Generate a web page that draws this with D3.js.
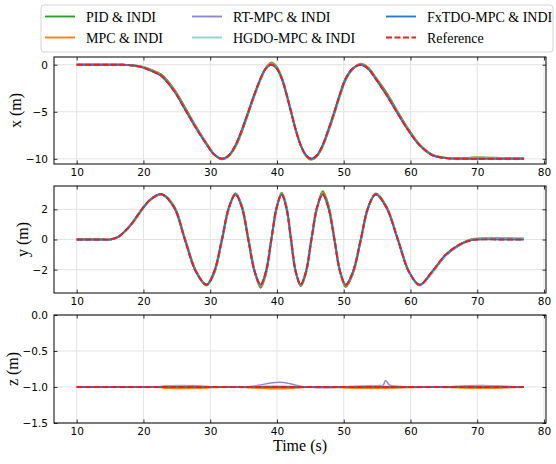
<!DOCTYPE html>
<html><head><meta charset="utf-8">
<script src="https://cdn.jsdelivr.net/npm/d3@7"></script>
<style>body{margin:0;background:#fff}</style>
</head><body>
<svg id="c" width="556" height="464"></svg>
<script>
// ---------- data ----------
const seriesNames = ["PID & INDI","MPC & INDI","RT-MPC & INDI","HGDO-MPC & INDI","FxTDO-MPC & INDI","Reference"];
const seriesColors = ["#2ca02c","#ff7f0e","#9088cc","#8fd6c3","#2b79cc","#ee1c1c"];
const xTicks = [10,20,30,40,50,60,70,80];
const yTicks1 = [0,-5,-10];
const yTicks2 = [-2,0,2];
const yTicks3 = [0,-0.5,-1,-1.5];

const time = [10,12,14,15,16.2,16.95,17.7,18.45,19.2,19.95,21.2,22.7,24.6,26.2,27.85,29.45,30.6,31.75,32.8,33.8,34.75,35.7,36.65,37.55,38.35,39.15,39.95,40.7,41.4,42.1,42.8,43.55,44.35,45.15,46.0,46.85,47.7,48.6,49.45,50.3,51.4,52.55,53.65,54.8,56.4,58.1,59.75,61.35,63.25,65.2,67.2,69.0,70.0,73.5,77];

const xRef  = [0,0,0,0,0,-0.01,-0.04,-0.09,-0.17,-0.3,-0.65,-1.2,-2.8,-4.7,-6.7,-8.45,-9.55,-10,-9.62,-8.54,-6.91,-5,-3.09,-1.46,-0.38,0,-0.38,-1.46,-3.09,-5,-6.91,-8.54,-9.62,-10,-9.62,-8.54,-6.91,-5,-3.09,-1.46,-0.38,0,-0.42,-1.5,-3.2,-5.2,-7.05,-8.55,-9.6,-9.92,-9.99,-10,-10,-10,-10];
const xPID  = [0,0,0,0,0,0,-0.02,-0.06,-0.13,-0.24,-0.55,-1.05,-2.6,-4.5,-6.55,-8.35,-9.5,-10.05,-9.7,-8.7,-7.1,-5.2,-3.25,-1.55,-0.35,0.25,-0.2,-1.3,-2.95,-4.9,-6.85,-8.55,-9.7,-10.08,-9.7,-8.7,-7.1,-5.2,-3.3,-1.6,-0.45,0.12,-0.3,-1.35,-2.95,-5.0,-6.9,-8.45,-9.55,-9.88,-9.93,-9.88,-9.85,-9.9,-9.98];
const xMPC  = [0,0,0,0,0,-0.01,-0.03,-0.08,-0.15,-0.27,-0.6,-1.12,-2.7,-4.6,-6.6,-8.4,-9.52,-10.02,-9.66,-8.6,-7.0,-5.1,-3.15,-1.5,-0.3,0.15,-0.3,-1.4,-3.02,-4.95,-6.88,-8.55,-9.66,-10.04,-9.66,-8.6,-7.0,-5.1,-3.15,-1.52,-0.4,0.08,-0.35,-1.42,-3.08,-5.1,-6.98,-8.5,-9.58,-9.9,-9.95,-9.9,-9.87,-9.9,-9.97];
const xRT   = [0,0,0,0,0,-0.01,-0.04,-0.09,-0.17,-0.3,-0.65,-1.2,-2.8,-4.7,-6.7,-8.45,-9.55,-10,-9.62,-8.54,-6.91,-5,-3.09,-1.46,-0.36,0.05,-0.36,-1.46,-3.09,-5,-6.91,-8.54,-9.62,-10.02,-9.62,-8.54,-6.91,-5,-3.09,-1.46,-0.37,0.03,-0.4,-1.5,-3.2,-5.2,-7.05,-8.55,-9.6,-9.92,-9.98,-9.97,-9.96,-9.96,-9.99];
const xHGDO = [0,0,0,0,0,-0.01,-0.04,-0.09,-0.17,-0.3,-0.65,-1.2,-2.8,-4.7,-6.7,-8.45,-9.55,-10,-9.62,-8.54,-6.91,-5,-3.09,-1.46,-0.38,0,-0.38,-1.46,-3.09,-5,-6.91,-8.54,-9.62,-10,-9.62,-8.54,-6.91,-5,-3.09,-1.46,-0.38,0,-0.42,-1.5,-3.2,-5.2,-7.05,-8.55,-9.6,-9.92,-9.98,-9.98,-9.97,-9.97,-9.98];
const xFx   = [0,0,0,0,0,-0.01,-0.04,-0.09,-0.17,-0.3,-0.65,-1.2,-2.8,-4.7,-6.7,-8.45,-9.55,-10,-9.62,-8.54,-6.91,-5,-3.09,-1.46,-0.38,0,-0.38,-1.46,-3.09,-5,-6.91,-8.54,-9.62,-10,-9.62,-8.54,-6.91,-5,-3.09,-1.46,-0.38,0,-0.42,-1.5,-3.2,-5.2,-7.05,-8.55,-9.6,-9.92,-9.99,-10,-10,-10,-10];

const yRef  = [0,0,0,0,0.17,0.44,0.77,1.17,1.65,2.12,2.71,3.0,2.12,0,-2.12,-3.0,-2.12,0,2.12,3.0,2.12,0,-2.12,-3.0,-2.12,0,2.12,3.0,2.12,0,-2.12,-3.0,-2.12,0,2.12,3.0,2.12,0,-2.12,-3.0,-2.12,0,2.12,3.0,2.12,0,-2.12,-3.0,-2.12,-1.04,-0.37,-0.06,0,0,0];
const yPID  = [0,0,0,0,0.15,0.41,0.74,1.13,1.6,2.07,2.68,3.02,2.2,0.1,-2.05,-3.05,-2.25,-0.1,2.05,3.08,2.25,0.15,-2.05,-3.2,-2.3,-0.1,2.05,3.1,2.25,0.1,-2.1,-3.1,-2.25,-0.1,2.05,3.2,2.3,0.1,-2.1,-3.15,-2.25,-0.1,2.05,3.05,2.2,0.05,-2.1,-3.02,-2.2,-1.1,-0.4,0.0,0.06,0.08,0.05];
const yMPC  = [0,0,0,0,0.16,0.43,0.76,1.15,1.63,2.1,2.7,3.01,2.15,0.05,-2.1,-3.02,-2.18,-0.05,2.1,3.04,2.18,0.07,-2.1,-3.1,-2.2,-0.05,2.1,3.05,2.18,0.05,-2.12,-3.05,-2.18,-0.05,2.1,3.1,2.2,0.05,-2.12,-3.08,-2.18,-0.05,2.1,3.02,2.15,0.02,-2.12,-3.02,-2.15,-1.06,-0.38,-0.02,0.03,0.05,0.03];
const yRT   = [0,0,0,0,0.17,0.44,0.77,1.17,1.65,2.12,2.71,3.0,2.12,0,-2.12,-3.0,-2.12,0,2.12,3.0,2.12,0,-2.12,-3.02,-2.12,0,2.12,3.0,2.12,0,-2.12,-3.0,-2.12,0,2.12,3.02,2.12,0,-2.12,-3.0,-2.12,0,2.12,3.0,2.12,0,-2.12,-3.05,-2.18,-1.1,-0.42,-0.05,0.03,0.08,0.06];
const yHGDO = [0,0,0,0,0.17,0.44,0.77,1.17,1.65,2.12,2.71,3.0,2.12,0,-2.12,-3.0,-2.12,0,2.12,3.0,2.12,0,-2.12,-3.0,-2.12,0,2.12,3.0,2.12,0,-2.12,-3.0,-2.12,0,2.12,3.0,2.12,0,-2.12,-3.0,-2.12,0,2.12,3.0,2.12,0,-2.12,-3.03,-2.15,-1.07,-0.4,-0.04,0.02,0.06,0.05];
const yFx   = [0,0,0,0,0.17,0.44,0.77,1.17,1.65,2.12,2.71,3.0,2.12,0,-2.12,-3.0,-2.12,0,2.12,3.0,2.12,0,-2.12,-3.0,-2.12,0,2.12,3.0,2.12,0,-2.12,-3.0,-2.12,0,2.12,3.0,2.12,0,-2.12,-3.0,-2.12,0,2.12,3.0,2.12,0,-2.12,-3.0,-2.12,-1.04,-0.37,-0.06,0,0,0];

const timeZ = [10,15,20,22,23,24,26,28,30,32,34,36,37.5,39,40.4,42,43.5,45,47,49,51,53,55,55.9,56.25,56.9,58,60,62,64,66,68,70,72,74,76,77];
const zRef  = [-1,-1,-1,-1,-1,-1,-1,-1,-1,-1,-1,-1,-1,-1,-1,-1,-1,-1,-1,-1,-1,-1,-1,-1,-1,-1,-1,-1,-1,-1,-1,-1,-1,-1,-1,-1,-1];
const zFx   = [-1,-1,-1,-1,-1,-1,-1,-1,-1,-1,-1,-1,-1,-1,-1,-1,-1,-1,-1,-1,-1,-1,-1,-1,-1,-1,-1,-1,-1,-1,-1,-1,-1,-1,-1,-1,-1];
const zPID  = [-1,-1,-1,-1,-1.002,-1.004,-1.005,-1.004,-1.002,-1,-1,-1.002,-1.005,-1.008,-1.008,-1.005,-1.002,-1,-1,-1,-1.003,-1.005,-1.005,-1.005,-1.005,-1.004,-1.003,-1.001,-1,-1,-1.001,-1.003,-1.004,-1.004,-1.003,-1.001,-1];
const zMPC  = [-1,-1,-1,-1,-1.01,-1.015,-1.018,-1.016,-1.006,-1,-1,-1.006,-1.016,-1.021,-1.022,-1.016,-1.006,-1,-1,-1.004,-1.012,-1.016,-1.016,-1.016,-1.016,-1.015,-1.012,-1.005,-1,-1,-1.004,-1.01,-1.013,-1.013,-1.009,-1.003,-1];
const zRT   = [-1,-1,-1,-1,-0.986,-0.982,-0.979,-0.984,-0.995,-1,-1,-0.993,-0.972,-0.945,-0.935,-0.955,-0.99,-1.002,-1.01,-1.004,-0.994,-0.986,-0.981,-0.978,-0.91,-0.976,-0.99,-0.999,-1,-1,-0.995,-0.986,-0.98,-0.981,-0.989,-0.998,-1];
const zHGDO = [-1,-1,-1,-1,-0.996,-0.994,-0.993,-0.995,-0.998,-1,-1,-0.998,-0.993,-0.99,-0.99,-0.993,-0.998,-1,-1,-0.999,-0.996,-0.994,-0.994,-0.994,-0.994,-0.995,-0.997,-0.999,-1,-1,-0.998,-0.995,-0.994,-0.994,-0.996,-0.999,-1];

// ---------- layout ----------
const svg = d3.select("#c");
const L = 54, R = 546;
const panels = [
  {top:57, bot:164, dom:[-10.55,0.82], ticks:yTicks1, fmt:d=>d3.format("d")(d), label:"x (m)", lx:15.5, t:time, curve:d3.curveCatmullRom, ser:[xPID,xMPC,xRT,xHGDO,xFx,xRef]},
  {top:186, bot:293, dom:[-3.55,3.55], ticks:yTicks2, fmt:d=>d3.format("d")(d), label:"y (m)", lx:22, t:time, curve:d3.curveCatmullRom, ser:[yPID,yMPC,yRT,yHGDO,yFx,yRef]},
  {top:315, bot:423, dom:[-1.5,0], ticks:yTicks3, fmt:d=>d3.format(".1f")(d), label:"z (m)", lx:12.5, t:timeZ, curve:d3.curveMonotoneX, ser:[zPID,zMPC,zRT,zHGDO,zFx,zRef]}
];
const x = d3.scaleLinear().domain([6.6,80.3]).range([L,R]);
const minus = s => s.replace("-", "\u2212");
const tickFont = "DejaVu Sans, sans-serif";
const serif = "Liberation Serif, Times New Roman, serif";

panels.forEach((p,i) => {
  const y = d3.scaleLinear().domain(p.dom).range([p.bot,p.top]);
  const g = svg.append("g");
  g.append("g").selectAll("line").data(xTicks).join("line")
    .attr("x1",d=>x(d)).attr("x2",d=>x(d)).attr("y1",p.top).attr("y2",p.bot)
    .attr("stroke","#e3e3e3").attr("stroke-width",1);
  g.append("g").selectAll("line").data(p.ticks).join("line")
    .attr("x1",L).attr("x2",R).attr("y1",d=>y(d)).attr("y2",d=>y(d))
    .attr("stroke","#e3e3e3").attr("stroke-width",1);
  const cid = "clip"+i;
  svg.append("clipPath").attr("id",cid).append("rect")
    .attr("x",L).attr("y",p.top).attr("width",R-L).attr("height",p.bot-p.top);
  const lg = g.append("g").attr("clip-path",`url(#${cid})`);
  const line = d3.line().x((d,j)=>x(p.t[j])).y(d=>y(d)).curve(p.curve);
  p.ser.forEach((s,k) => {
    const path = lg.append("path").attr("d", line(s)).attr("fill","none")
      .attr("stroke", seriesColors[k]).attr("stroke-width", 1.9);
    if (k===5) path.attr("stroke-dasharray","6,2.5");
    if (k===2 && i===2) path.attr("stroke-width",1.5);
  });
  const tl = 3.5;
  g.append("g").attr("transform",`translate(0,${p.bot})`)
    .call(d3.axisBottom(x).tickValues(xTicks).tickSize(-tl).tickPadding(5).tickFormat(d3.format("d")))
    .call(a=>a.select(".domain").remove());
  g.append("g").attr("transform",`translate(0,${p.top})`)
    .call(d3.axisTop(x).tickValues(xTicks).tickSize(-tl).tickFormat(""))
    .call(a=>a.select(".domain").remove());
  g.append("g").attr("transform",`translate(${L},0)`)
    .call(d3.axisLeft(y).tickValues(p.ticks).tickSize(-tl).tickPadding(6).tickFormat(d=>minus(p.fmt(d))))
    .call(a=>a.select(".domain").remove());
  g.append("g").attr("transform",`translate(${R},0)`)
    .call(d3.axisRight(y).tickValues(p.ticks).tickSize(-tl).tickFormat(""))
    .call(a=>a.select(".domain").remove());
  g.selectAll(".tick line").attr("stroke","#000").attr("stroke-width",0.8);
  g.selectAll(".tick text").attr("font-family",tickFont).attr("font-size",10.5).attr("fill","#000");
  g.append("rect").attr("x",L).attr("y",p.top).attr("width",R-L).attr("height",p.bot-p.top)
    .attr("fill","none").attr("stroke","#000").attr("stroke-width",1);
  svg.append("text").attr("transform",`translate(${p.lx},${(p.top+p.bot)/2}) rotate(-90)`)
    .attr("text-anchor","middle").attr("dominant-baseline","central")
    .attr("font-family",serif).attr("font-size",16).text(p.label);
});

svg.append("text").attr("x",(L+R)/2).attr("y",451).attr("text-anchor","middle")
  .attr("font-family",serif).attr("font-size",16).text("Time (s)");

// ---------- legend ----------
const lgG = svg.append("g");
lgG.append("rect").attr("x",41).attr("y",5).attr("width",512).attr("height",47).attr("rx",3)
  .attr("fill","#fff").attr("stroke","#d4d4d4").attr("stroke-width",1);
const colX = [45,192,386];
const rowY = [16.5,37.5];
seriesNames.forEach((n,k) => {
  const c = Math.floor(k/2), r = k%2;
  const ln = lgG.append("line").attr("x1",colX[c]).attr("x2",colX[c]+30)
    .attr("y1",rowY[r]).attr("y2",rowY[r]).attr("stroke",seriesColors[k]).attr("stroke-width",1.9);
  if (k===5) ln.attr("stroke-dasharray","6,2.5");
  lgG.append("text").attr("x",colX[c]+41).attr("y",rowY[r]+5)
    .attr("font-family",serif).attr("font-size",14).text(n);
});
</script>
</body></html>
